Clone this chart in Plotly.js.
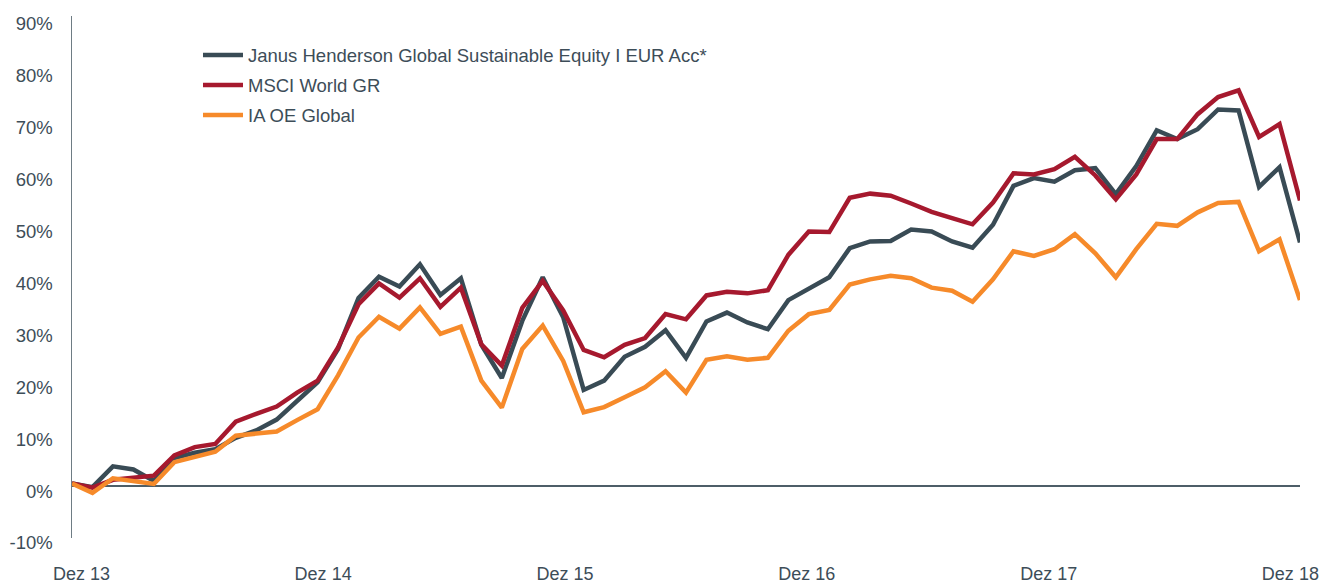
<!DOCTYPE html>
<html>
<head>
<meta charset="utf-8">
<script src="https://cdn.plot.ly/plotly-3.0.1.min.js"></script>
<style>
  html, body { margin: 0; padding: 0; background: #ffffff; }
  #chart { width: 1320px; height: 583px; }
</style>
</head>
<body>
<div id="chart"></div>
<script>
// Month index 0 = Dez 13 ... 60 = Dez 18 (monthly)
const months = Array.from({length: 61}, (_, i) => i);

const seriesNames = [
  "Janus Henderson Global Sustainable Equity I EUR Acc*",
  "MSCI World GR",
  "IA OE Global"
];

const janus = [
  0.5, -0.2, 3.8, 3.2, 1.0, 5.4, 6.4, 7.1, 9.3, 10.7, 12.8, 16.3,
  20.0, 26.4, 36.2, 40.3, 38.4, 42.7, 36.8, 40.0, 27.2, 20.8, 31.8, 40.2,
  32.5, 18.5, 20.3, 24.9, 26.8, 30.0, 24.7, 31.7, 33.4, 31.5, 30.2, 35.8,
  38.1, 40.2, 45.8, 47.1, 47.2, 49.4, 49.0, 47.1, 45.9, 50.3, 57.8, 59.3,
  58.6, 60.8, 61.2, 56.2, 61.6, 68.5, 66.8, 68.7, 72.5, 72.3, 57.6, 61.4,
  46.9
];

const msci = [
  0.5, -0.3, 1.2, 1.7, 2.0, 5.9, 7.5, 8.1, 12.4, 13.9, 15.3, 18.0,
  20.3, 26.7, 35.0, 39.0, 36.3, 40.0, 34.5, 38.2, 27.3, 23.2, 34.3, 39.5,
  33.8, 26.2, 24.8, 27.2, 28.5, 33.1, 32.1, 36.7, 37.4, 37.1, 37.7, 44.5,
  49.0, 48.9, 55.5, 56.3, 55.9, 54.4, 52.8, 51.6, 50.4, 54.6, 60.2, 60.0,
  61.0, 63.4, 59.8, 55.2, 60.0, 66.8, 66.8, 71.6, 74.9, 76.2, 67.2, 69.7,
  55.0
];

const iaoe = [
  0.5, -1.3, 1.5, 0.9, 0.4, 4.6, 5.5, 6.6, 9.7, 10.2, 10.5, 12.7,
  14.8, 21.3, 28.6, 32.6, 30.3, 34.4, 29.3, 30.7, 20.3, 15.1, 26.4, 30.9,
  24.1, 14.2, 15.2, 17.1, 19.0, 22.1, 18.0, 24.3, 25.0, 24.3, 24.7, 29.9,
  33.1, 33.9, 38.8, 39.8, 40.5, 40.0, 38.2, 37.6, 35.5, 39.8, 45.2, 44.3,
  45.6, 48.5, 44.8, 40.2, 45.6, 50.5, 50.1, 52.7, 54.5, 54.7, 45.2, 47.5,
  35.8
];

const xTickLabels = ["Dez 13", "Dez 14", "Dez 15", "Dez 16", "Dez 17", "Dez 18"];
const xTickPositions = [0.46, 12.27, 24.09, 35.9, 47.72, 59.53];
const yTickValues = [-10, 0, 10, 20, 30, 40, 50, 60, 70, 80, 90];
const yTickLabels = ["-10%", "0%", "10%", "20%", "30%", "40%", "50%", "60%", "70%", "80%", "90%"];

const colors = ["#394b55", "#a6192e", "#f68a2a"];
const values = [janus, msci, iaoe];

const textColor = "#3d4d58";
const fontFamily = "'Liberation Sans', Arial, Helvetica, sans-serif";

const traces = values.map((v, k) => ({
  x: months,
  y: v,
  type: "scatter",
  mode: "lines",
  name: seriesNames[k],
  legendgroup: "g" + k,
  line: { color: colors[k], width: 4.5, shape: "linear" },
  hoverinfo: "skip"
}));

const layout = {
  width: 1320,
  height: 583,
  margin: { l: 72, r: 20, t: 15.5, b: 45, pad: 0 },
  paper_bgcolor: "#ffffff",
  plot_bgcolor: "#ffffff",
  font: { family: fontFamily, color: textColor, size: 18 },
  showlegend: true,
  legend: {
    x: 0.1026, y: 0.961, xanchor: "left", yanchor: "top",
    bgcolor: "rgba(0,0,0,0)",
    font: { family: fontFamily, size: 18.5, color: textColor },
    traceorder: "grouped",
    tracegroupgap: 3,
    itemwidth: 40
  },
  xaxis: {
    range: [0, 60],
    showgrid: false,
    zeroline: false,
    showline: false,
    ticks: "",
    tickmode: "array",
    tickvals: xTickPositions,
    ticktext: xTickLabels,
    tickfont: { family: fontFamily, size: 18, color: textColor },
    ticklabelstandoff: 23,
    fixedrange: true
  },
  yaxis: {
    range: [-10, 90.5],
    showgrid: false,
    zeroline: true,
    zerolinecolor: "#4e5e68",
    zerolinewidth: 1.2,
    showline: true,
    linecolor: "#6e7c84",
    linewidth: 1.5,
    ticks: "",
    tickmode: "array",
    tickvals: yTickValues,
    ticktext: yTickLabels,
    tickfont: { family: fontFamily, size: 18.5, color: textColor },
    ticklabelstandoff: 14,
    ticklabelshift: 5,
    fixedrange: true
  }
};

Plotly.newPlot("chart", traces, layout, { displayModeBar: false, staticPlot: true });
</script>
</body>
</html>
